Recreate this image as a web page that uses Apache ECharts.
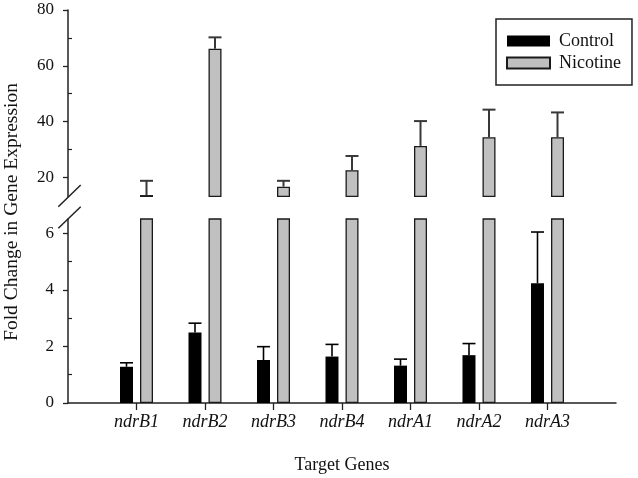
<!DOCTYPE html>
<html><head><meta charset="utf-8">
<script src="https://cdn.jsdelivr.net/npm/echarts@6.0.0/dist/echarts.min.js"></script>
<style>html,body{margin:0;padding:0;background:#fff}#c{width:638px;height:478px}</style>
</head><body><div id="c"></div>
<script>
// ---- data ----
const categories = ['ndrB1', 'ndrB2', 'ndrB3', 'ndrB4', 'ndrA1', 'ndrA2', 'ndrA3'];
const controlValues = [1.28, 2.49, 1.52, 1.64, 1.32, 1.69, 4.23];
const controlErrors = [0.14, 0.33, 0.47, 0.43, 0.23, 0.41, 1.81];
const nicotineValues = [13.7, 66.1, 16.7, 22.6, 31.3, 34.4, 34.4];
const nicotineErrors = [5.1, 4.1, 2.1, 5.1, 8.9, 9.9, 8.9];
const upperTicks = [20, 40, 60, 80];
const upperMinorTicks = [30, 50, 70];
const lowerTicks = [0, 2, 4, 6];
const lowerMinorTicks = [1, 3, 5];
const upperRange = [13, 80];
const lowerRange = [0, 6.5];

// ---- layout / style ----
const FONT = "'Liberation Serif', 'Times New Roman', serif";
const AX = '#222';
const axisX = 68, rightPad = 22;
const upperTop = 10, upperBottom = 197;
const lowerTop = 219, lowerBottom = 403;
const BAR_W = 13, HALF_OFF = 10, CAP = 13;

const xCats = [''].concat(categories, ['']);
const pad = arr => [null].concat(arr, [null]);
const errData = (vals, errs) => vals.map((v, i) => [i + 1, v, errs[i]]);

function errorRenderer(offset, color, lw) {
  return function (params, api) {
    const idx = api.value(0), v = api.value(1), e = api.value(2);
    const b = api.coord([idx, v]);
    const t = api.coord([idx, v + e]);
    const x = b[0] + offset;
    return {
      type: 'group',
      children: [
        { type: 'line', shape: { x1: x, y1: b[1], x2: x, y2: t[1] }, style: { stroke: color, lineWidth: lw } },
        { type: 'line', shape: { x1: x - CAP / 2, y1: t[1], x2: x + CAP / 2, y2: t[1] }, style: { stroke: color, lineWidth: lw } }
      ]
    };
  };
}

const chart = echarts.init(document.getElementById('c'), null, { renderer: 'canvas' });
const mainY = (grid, range, ticks) => ({
  type: 'value', gridIndex: grid, min: range[0], max: range[1], position: 'left',
  startValue: range[0],
  axisLine: { show: true, lineStyle: { color: AX, width: 1.5 } },
  axisTick: { show: true, inside: false, length: 5, customValues: ticks, lineStyle: { color: AX, width: 1.3 } },
  axisLabel: { show: true, customValues: ticks, margin: 14, color: '#111', fontFamily: FONT, fontSize: 17 },
  splitLine: { show: false }
});
const minorY = (grid, range, ticks) => ({
  type: 'value', gridIndex: grid, min: range[0], max: range[1], position: 'left', offset: 0,
  axisLine: { show: false },
  axisTick: { show: true, inside: true, length: 4, customValues: ticks, lineStyle: { color: AX, width: 1.2 } },
  axisLabel: { show: false },
  splitLine: { show: false }
});

chart.setOption({
  animation: false,
  backgroundColor: '#fff',
  grid: [
    { left: axisX, right: rightPad, top: upperTop, height: upperBottom - upperTop, outerBoundsMode: 'none' },
    { left: axisX, right: rightPad, top: lowerTop, height: lowerBottom - lowerTop, outerBoundsMode: 'none' }
  ],
  legend: {
    data: ['Control', 'Nicotine'],
    orient: 'vertical', left: 496, top: 19,
    padding: [13, 11, 13, 10],
    itemWidth: 43, itemHeight: 11, itemGap: 4,
    borderColor: AX, borderWidth: 1.5, borderRadius: 0,
    textStyle: { fontFamily: FONT, fontSize: 18, color: '#111', padding: [0, 0, 0, 4] },
    icon: 'rect'
  },
  xAxis: [
    { type: 'category', gridIndex: 0, data: xCats, boundaryGap: false, show: false },
    {
      type: 'category', gridIndex: 1, data: xCats, boundaryGap: false,
      axisLine: { show: true, onZero: false, lineStyle: { color: AX, width: 1.5 } },
      axisTick: { show: true, length: 7, interval: (i, v) => v !== '', lineStyle: { color: AX, width: 1.3 } },
      axisLabel: { show: true, interval: (i, v) => v !== '', margin: 10, fontFamily: FONT, fontSize: 18, fontStyle: 'italic', color: '#111' },
      name: 'Target Genes', nameLocation: 'middle', nameGap: 53,
      nameTextStyle: { fontFamily: FONT, fontSize: 18, color: '#111' }
    }
  ],
  yAxis: [
    mainY(0, upperRange, upperTicks),
    minorY(0, upperRange, upperMinorTicks),
    mainY(1, lowerRange, lowerTicks),
    minorY(1, lowerRange, lowerMinorTicks)
  ],
  series: [
    { name: 'Control', type: 'bar', xAxisIndex: 0, yAxisIndex: 0, data: pad(categories.map(() => null)),
      barWidth: BAR_W, barGap: '54%', itemStyle: { color: '#000' } },
    { name: 'Nicotine', type: 'bar', xAxisIndex: 0, yAxisIndex: 0, data: pad(nicotineValues), clip: true,
      barWidth: BAR_W, barGap: '54%', itemStyle: { color: '#c0c0c0', borderColor: '#1a1a1a', borderWidth: 1.3 } },
    { name: 'Control', type: 'bar', xAxisIndex: 1, yAxisIndex: 2, data: pad(controlValues),
      barWidth: BAR_W, barGap: '54%', itemStyle: { color: '#000' } },
    { name: 'Nicotine', type: 'bar', xAxisIndex: 1, yAxisIndex: 2, data: pad(nicotineValues), clip: true,
      barWidth: BAR_W, barGap: '54%', itemStyle: { color: '#c0c0c0', borderColor: '#1a1a1a', borderWidth: 1.3 } },
    { name: 'nicErr', type: 'custom', xAxisIndex: 0, yAxisIndex: 0, data: errData(nicotineValues, nicotineErrors),
      encode: { x: 0, y: 1 }, renderItem: errorRenderer(HALF_OFF, '#383838', 2), z: 3 },
    { name: 'ctrlErr', type: 'custom', xAxisIndex: 1, yAxisIndex: 2, data: errData(controlValues, controlErrors),
      encode: { x: 0, y: 1 }, renderItem: errorRenderer(-HALF_OFF, '#000', 1.6), z: 3 }
  ],
  graphic: [
    { type: 'text', x: 12, y: 212, rotation: Math.PI / 2,
      style: { text: 'Fold Change in Gene Expression', font: '19.5px ' + FONT, fill: '#111', align: 'center', verticalAlign: 'middle' } },
    { type: 'line', shape: { x1: axisX - 9.7, y1: upperBottom + 9.7, x2: axisX + 12.7, y2: upperBottom - 12 },
      style: { stroke: AX, lineWidth: 1.5 } },
    { type: 'line', shape: { x1: axisX - 9.7, y1: lowerTop + 9.3, x2: axisX + 12.7, y2: lowerTop - 12.3 },
      style: { stroke: AX, lineWidth: 1.5 } }
  ]
});
</script>
</body></html>
